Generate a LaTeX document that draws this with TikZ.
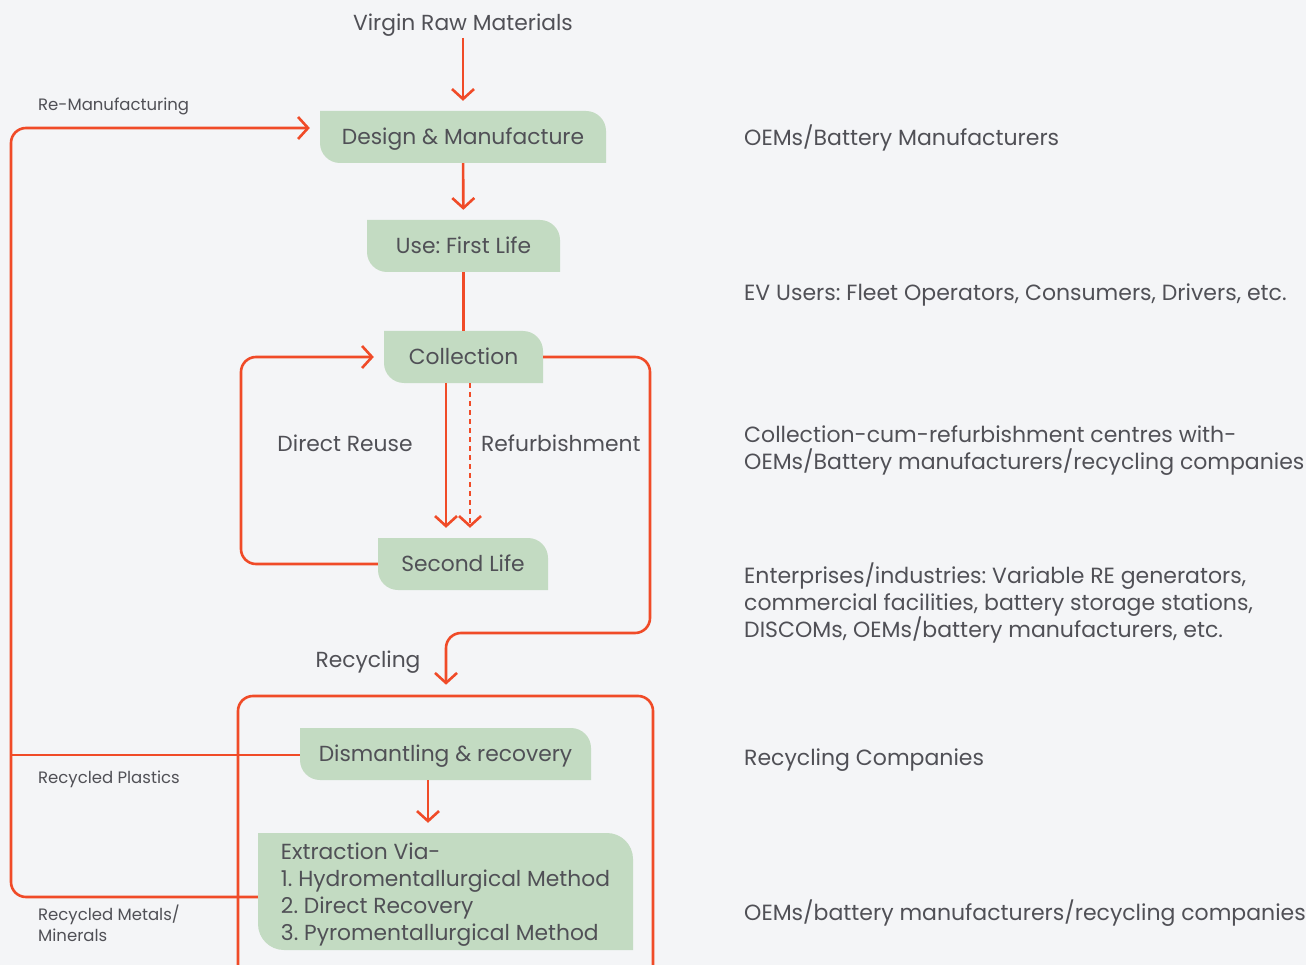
\documentclass[tikz,border=0pt]{standalone}
\usepackage{fontspec}
\setmainfont{Poppins}
\frenchspacing
\usetikzlibrary{arrows.meta,calc}
\definecolor{bgc}{RGB}{244,245,247}
\definecolor{flow}{RGB}{240,75,40}
\definecolor{leaf}{RGB}{195,219,194}
\definecolor{ink}{RGB}{80,80,86}
\tikzset{
  stage/.style={rectangle, inner sep=0pt, text=ink, font=\fontsize{21.8}{26.7}\selectfont,
    text height=15.2pt, text depth=0pt,
    path picture={
      \fill[leaf] (path picture bounding box.north west)
        -- ($(path picture bounding box.north east)+(-#1,0)$)
        arc[start angle=90,end angle=0,radius=#1]
        -- (path picture bounding box.south east)
        -- ($(path picture bounding box.south west)+(#1,0)$)
        arc[start angle=-90,end angle=-180,radius=#1]
        -- cycle;}},
  stage/.default=20,
  lbl/.style={text=ink, inner sep=0pt, font=\fontsize{21.8}{26.7}\selectfont, text height=15.2pt, text depth=0pt},
  side/.style={text=ink, inner sep=0pt, anchor=base west, align=left, font=\fontsize{22}{26.8}\selectfont},
  small/.style={text=ink, inner sep=0pt, anchor=base west, align=left, font=\fontsize{16.5}{21}\selectfont},
  link/.style={draw=flow, line width=2.6pt, rounded corners=15},
  arr/.style={link, -{Straight Barb[length=10pt,width=22pt]}, shorten >=10pt},
}
\begin{document}
\begin{tikzpicture}[x=1pt,y=1pt]
\fill[bgc] (0,0) rectangle (1306,-965);
\useasboundingbox (0,0) rectangle (1306,-965);

% stages of the battery life cycle
\node[lbl] (virgin) at (463,-23) {Virgin Raw Materials};
\node[stage, minimum width=286, minimum height=52] (dm) at (463,-137) {Design \& Manufacture};
\node[stage, minimum width=193, minimum height=52] (use) at (463.5,-246) {Use: First Life};
\node[stage, minimum width=159, minimum height=52] (coll) at (463.5,-357) {Collection};
\node[stage, minimum width=170, minimum height=52] (second) at (463,-564) {Second Life};
\node[draw=flow, line width=2.6pt, rounded corners=15, minimum width=415, minimum height=290] (recbox) at (445.5,-841) {};
\node[stage, minimum width=291, minimum height=52] (dism) at (445.5,-754) {Dismantling \& recovery};
\node[stage=26, minimum width=375, minimum height=117, align=left, text height=97pt, text depth=0pt] (extr) at (445.5,-891.5)
  {Extraction Via-\\1. Hydromentallurgical Method\\2. Direct Recovery\\3. Pyromentallurgical Method};

% path labels
\node[lbl] (reuse) at (345,-444) {Direct Reuse};
\node[lbl, anchor=west] (refurb) at (481,-444) {Refurbishment};
\node[lbl] (recyc) at (368,-660) {Recycling};
\node[small] (reman) at (38,-111) {Re-Manufacturing};
\node[small] (plast) at (38,-783) {Recycled Plastics};
\node[small] (metal) at (38,-941) {Recycled Metals/\\Minerals};

% stakeholders
\node[side] (s1) at (744,-146) {OEMs/Battery Manufacturers};
\node[side] (s2) at (744,-301) {EV Users: Fleet Operators, Consumers, Drivers, etc.};
\node[side] (s3) at (744,-469) {Collection-cum-refurbishment centres with-\\OEMs/Battery manufacturers/recycling companies};
\node[side] (s4) at (744,-637) {Enterprises/industries: Variable RE generators,\\commercial facilities, battery storage stations,\\DISCOMs, OEMs/battery manufacturers, etc.};
\node[side] (s5) at (744,-765) {Recycling Companies};
\node[side] (s6) at (744,-920) {OEMs/battery manufacturers/recycling companies};

% turning points of the loops
\coordinate (remfg) at (11,-128);
\coordinate (metalc) at (11,-897);
\coordinate (plastc) at (11,-755);
\coordinate (reuseb) at (241,-564);
\coordinate (reuset) at (241,-357);
\coordinate (recyt) at (650,-357);
\coordinate (recyb) at (650,-633);
\coordinate (recyd) at (446,-633);
\coordinate (dropx) at (428,0);

% connectors
\draw[arr, shorten <=7pt] (virgin) -- (dm);
\draw[arr] (dm) -- (use);
\draw[link] (use) -- (coll);
\draw[arr] (coll.south -| 446,0) -- (second.north -| 446,0);
\draw[arr, dash pattern=on 5pt off 4pt] (coll.south -| 470,0) -- (second.north -| 470,0);
\draw[arr] (second.west) -- (reuseb) -- (reuset) -- (coll.west);
\draw[arr] (coll.east) -- (recyt) -- (recyb) -- (recyd) -- (recyd |- recbox.north);
\draw[arr] (dism.south -| dropx) -- (extr.north -| dropx);
\draw[arr] (metalc -| extr.west) -- (metalc) -- (remfg) -- (remfg -| dm.west);
\draw[link] (dism.west |- plastc) -- (plastc);
\end{tikzpicture}
\end{document}
